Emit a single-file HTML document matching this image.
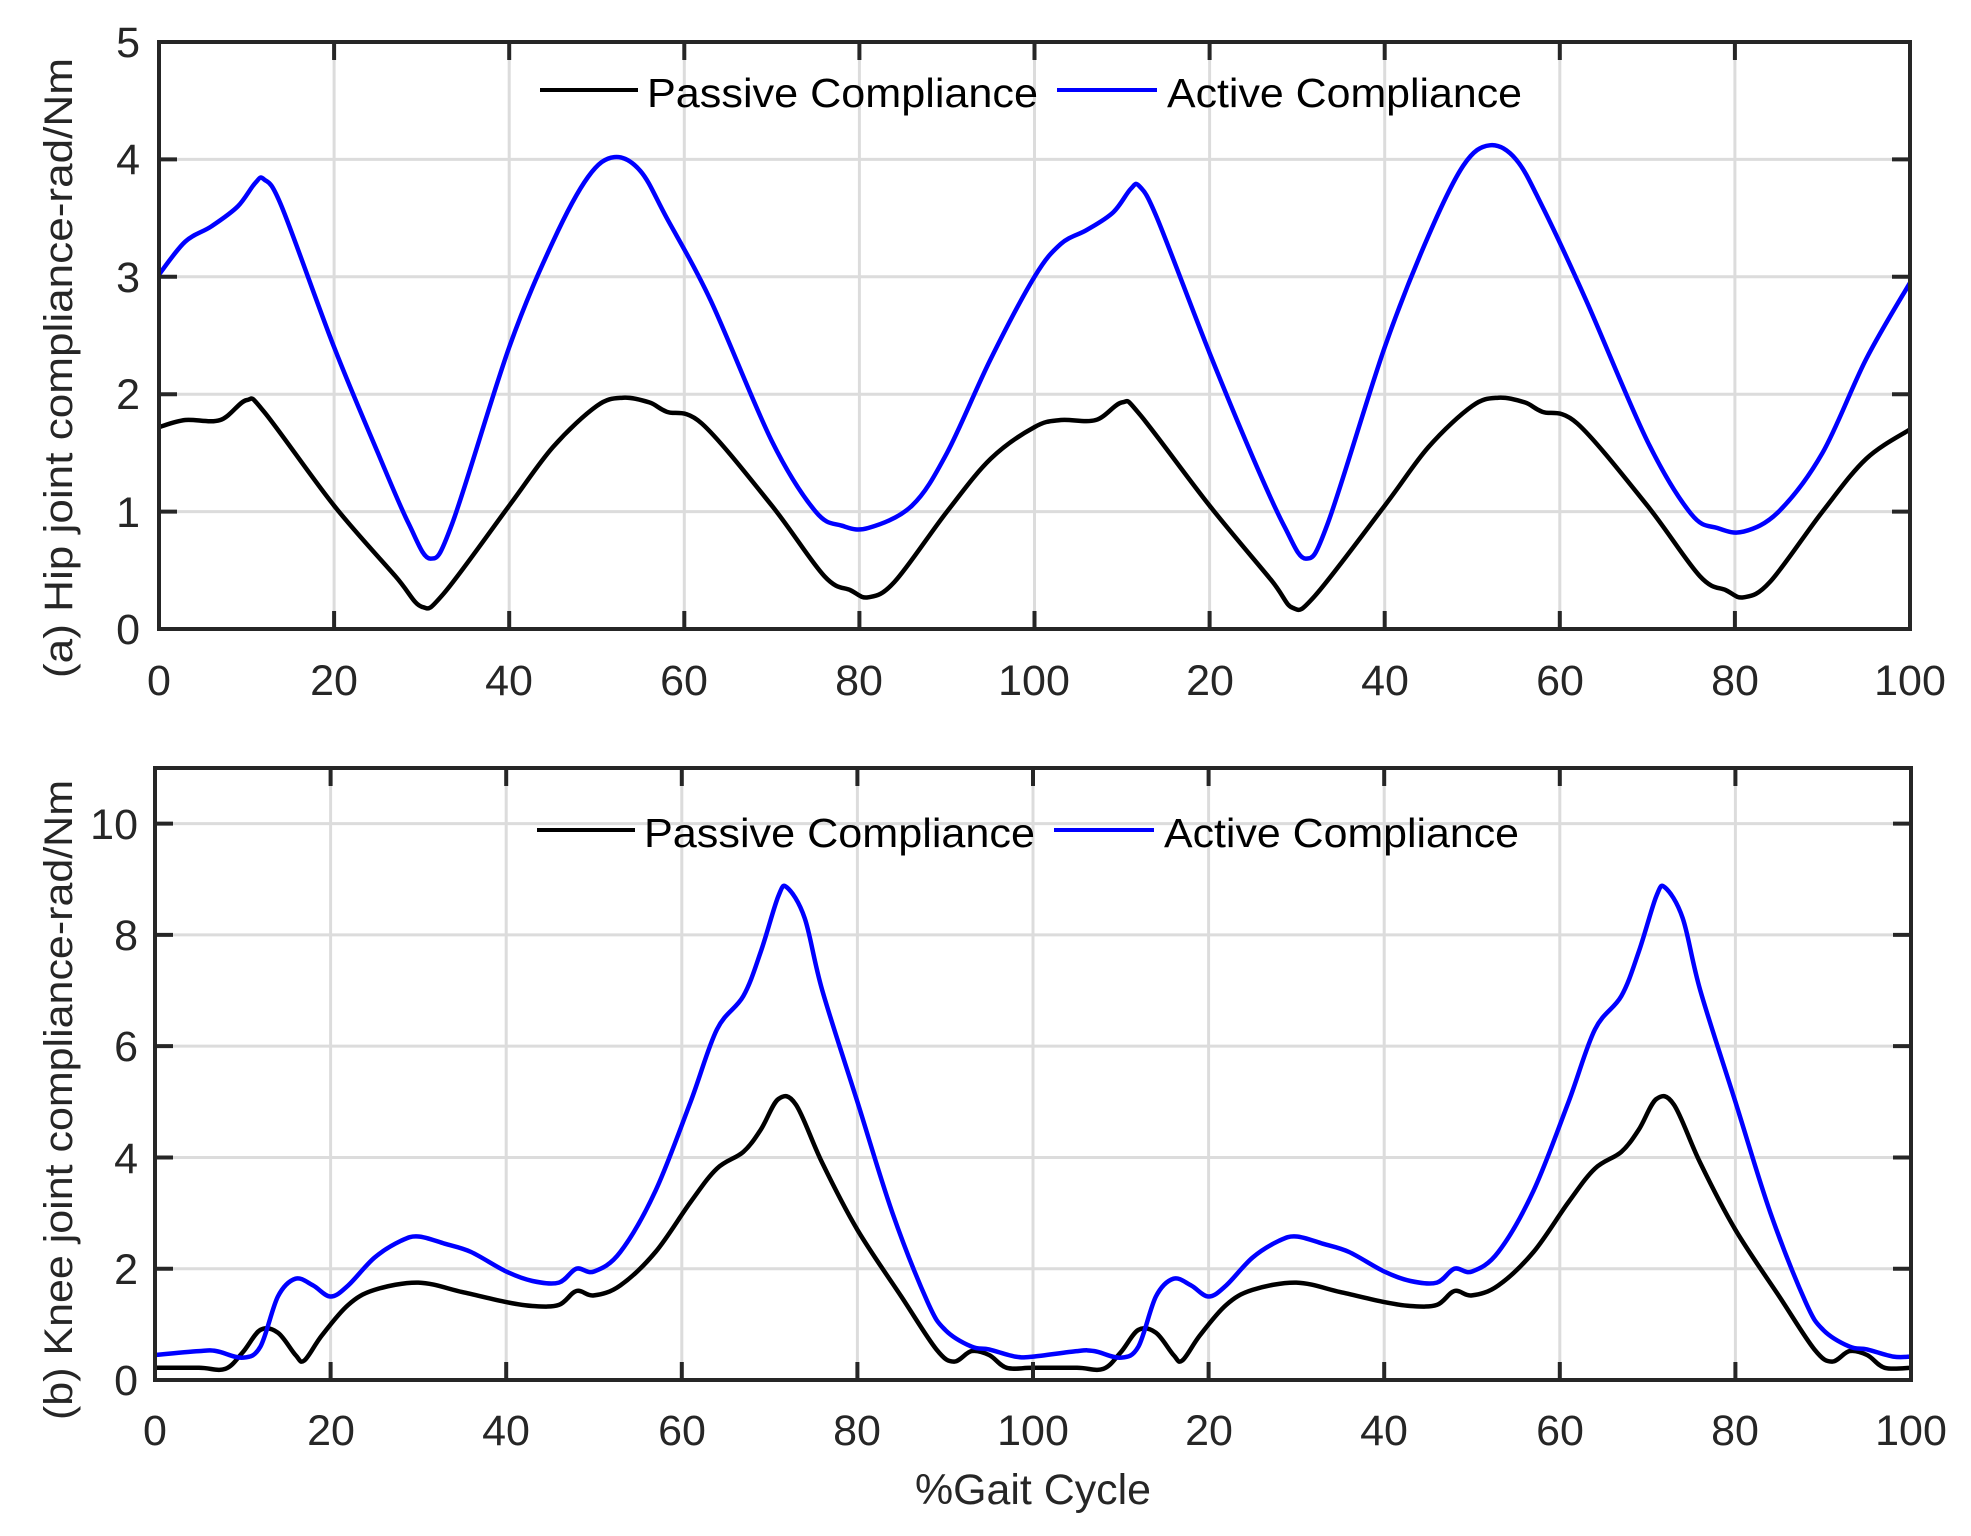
<!DOCTYPE html>
<html><head><meta charset="utf-8"><style>
html,body{margin:0;padding:0;background:#fff;}
svg{display:block;font-family:"Liberation Sans",sans-serif;}
</style></head><body>
<svg id="s" width="1971" height="1536" viewBox="0 0 1971 1536" xmlns="http://www.w3.org/2000/svg">
<g id="g1"></g>
<g id="g2"></g>
<g fill="#262626" font-size="43">
<text x="140" y="57" text-anchor="end">5</text>
<text x="140" y="174" text-anchor="end">4</text>
<text x="140" y="292" text-anchor="end">3</text>
<text x="140" y="409" text-anchor="end">2</text>
<text x="140" y="527" text-anchor="end">1</text>
<text x="140" y="644" text-anchor="end">0</text>
<g text-anchor="middle">
<text x="159" y="695">0</text><text x="334" y="695">20</text><text x="509" y="695">40</text><text x="684" y="695">60</text><text x="859" y="695">80</text><text x="1034" y="695">100</text><text x="1210" y="695">20</text><text x="1385" y="695">40</text><text x="1560" y="695">60</text><text x="1735" y="695">80</text><text x="1910" y="695">100</text>
<text x="155" y="1445">0</text><text x="331" y="1445">20</text><text x="506" y="1445">40</text><text x="682" y="1445">60</text><text x="857" y="1445">80</text><text x="1033" y="1445">100</text><text x="1209" y="1445">20</text><text x="1384" y="1445">40</text><text x="1560" y="1445">60</text><text x="1735" y="1445">80</text><text x="1911" y="1445">100</text>
</g>
<text x="138" y="1395" text-anchor="end">0</text>
<text x="138" y="1284" text-anchor="end">2</text>
<text x="138" y="1173" text-anchor="end">4</text>
<text x="138" y="1061" text-anchor="end">6</text>
<text x="138" y="950" text-anchor="end">8</text>
<text x="138" y="839" text-anchor="end">10</text>
<text font-size="40" transform="translate(72,368) rotate(-90)" text-anchor="middle" textLength="620" lengthAdjust="spacingAndGlyphs">(a) Hip joint compliance-rad/Nm</text>
<text font-size="40" transform="translate(72,1100) rotate(-90)" text-anchor="middle" textLength="640" lengthAdjust="spacingAndGlyphs">(b) Knee joint compliance-rad/Nm</text>
<text x="1033" y="1504" text-anchor="middle" textLength="236" lengthAdjust="spacingAndGlyphs">%Gait Cycle</text>
</g>
<g font-size="41" fill="#000">
<line x1="540" y1="90" x2="638" y2="90" stroke="#000" stroke-width="4"/>
<text x="647" y="107" textLength="391" lengthAdjust="spacingAndGlyphs">Passive Compliance</text>
<line x1="1057" y1="90" x2="1157" y2="90" stroke="#0000ff" stroke-width="4"/>
<text x="1167" y="107" textLength="355" lengthAdjust="spacingAndGlyphs">Active Compliance</text>
<line x1="537" y1="830" x2="635" y2="830" stroke="#000" stroke-width="4"/>
<text x="644" y="847" textLength="391" lengthAdjust="spacingAndGlyphs">Passive Compliance</text>
<line x1="1054" y1="830" x2="1154" y2="830" stroke="#0000ff" stroke-width="4"/>
<text x="1164" y="847" textLength="355" lengthAdjust="spacingAndGlyphs">Active Compliance</text>
</g>
</svg>
<script>
var NS="http://www.w3.org/2000/svg";
function el(g,t,a){var e=document.createElementNS(NS,t);for(var k in a)e.setAttribute(k,a[k]);g.appendChild(e);return e;}
function smooth(pts){var d="M"+pts[0][0].toFixed(1)+","+pts[0][1].toFixed(1);
for(var i=0;i<pts.length-1;i++){var p0=pts[i-1]||pts[i],p1=pts[i],p2=pts[i+1],p3=pts[i+2]||p2;
var c1=[p1[0]+(p2[0]-p0[0])/6,p1[1]+(p2[1]-p0[1])/6],c2=[p2[0]-(p3[0]-p1[0])/6,p2[1]-(p3[1]-p1[1])/6];
d+="C"+c1[0].toFixed(1)+","+c1[1].toFixed(1)+" "+c2[0].toFixed(1)+","+c2[1].toFixed(1)+" "+p2[0].toFixed(1)+","+p2[1].toFixed(1);}return d;}
function panel(g,x0,x1,yTop,y0,ymax,ystep,series){
 var sx=(x1-x0)/200,sy=(y0-yTop)/ymax;
 for(var v=0;v<=200;v+=20){var X=x0+v*sx;el(g,"line",{x1:X,y1:yTop,x2:X,y2:y0,stroke:"#dcdcdc","stroke-width":3});}
 for(var v=ystep;v<ymax;v+=ystep){var Y=y0-v*sy;el(g,"line",{x1:x0,y1:Y,x2:x1,y2:Y,stroke:"#dcdcdc","stroke-width":3});}
 series.forEach(function(s){var pts=s.d.map(function(p){return [x0+p[0]*sx,y0-p[1]*sy];});
  el(g,"path",{d:smooth(pts),fill:"none",stroke:s.c,"stroke-width":4.5,"stroke-linejoin":"round"});});
 for(var v=0;v<=200;v+=20){var X=x0+v*sx;el(g,"line",{x1:X,y1:y0,x2:X,y2:y0-18,stroke:"#262626","stroke-width":4});el(g,"line",{x1:X,y1:yTop,x2:X,y2:yTop+18,stroke:"#262626","stroke-width":4});}
 for(var v=0;v<=ymax;v+=ystep){var Y=y0-v*sy;el(g,"line",{x1:x0,y1:Y,x2:x0+18,y2:Y,stroke:"#262626","stroke-width":4});el(g,"line",{x1:x1,y1:Y,x2:x1-18,y2:Y,stroke:"#262626","stroke-width":4});}
 el(g,"rect",{x:x0,y:yTop,width:x1-x0,height:y0-yTop,fill:"none",stroke:"#262626","stroke-width":4});
}
function two(a,b){return a.concat(b.slice(1).map(function(p){return [p[0]+100,p[1]];}));}
var hp=[[0,1.72],[3,1.78],[7,1.78],[10,1.95],[12,1.85],[20,1.05],[27,0.45],[30,0.19],[32.5,0.3],[40,1.05],[45,1.55],[50,1.9],[53,1.97],[56,1.93],[58,1.85],[62,1.75],[70,1.05],[76,0.45],[79,0.33],[81,0.27],[84,0.4],[90,1.0],[95,1.45],[100,1.72]];
var hp2=[[0,1.72],[3,1.78],[7,1.78],[10,1.93],[12,1.83],[20,1.05],[27,0.42],[29.5,0.18],[32,0.28],[40,1.05],[45,1.55],[50,1.9],[53,1.97],[56,1.93],[58,1.85],[62,1.75],[70,1.05],[76,0.45],[79,0.33],[81,0.27],[84,0.4],[90,1.0],[95,1.45],[100,1.7]];
var ha=[[0,3.02],[3,3.3],[6,3.43],[9,3.6],[11,3.8],[12,3.83],[14,3.6],[20,2.4],[25,1.5],[28.5,0.9],[31,0.6],[33.5,0.9],[40,2.4],[45,3.3],[49,3.85],[52,4.02],[55,3.9],[58,3.5],[63,2.8],[70,1.6],[75,1.0],[78,0.88],[81,0.86],[86,1.05],[90,1.5],[95,2.3],[100,3.0]];
var ha2=[[0,3.0],[3,3.28],[6,3.4],[9,3.55],[11,3.75],[12,3.77],[14,3.5],[20,2.35],[25,1.45],[28.5,0.88],[31,0.6],[33.5,0.9],[40,2.4],[45,3.35],[49,3.95],[52,4.12],[55,4.0],[58,3.6],[63,2.8],[70,1.6],[75,0.98],[78,0.86],[81,0.83],[85,1.0],[90,1.5],[95,2.3],[100,2.95]];
var kp=[[0,0.22],[5,0.22],[8,0.2],[10,0.5],[12,0.9],[14,0.85],[16,0.45],[17,0.35],[19,0.8],[22,1.35],[25,1.62],[30,1.75],[35,1.58],[40,1.4],[43,1.33],[46,1.35],[48,1.6],[50,1.52],[53,1.7],[57,2.3],[61,3.2],[64,3.8],[67,4.1],[69,4.5],[71,5.05],[73,4.95],[76,3.9],[80,2.7],[85,1.5],[89,0.55],[91,0.33],[93,0.52],[95,0.45],[97,0.22],[100,0.22]];
var ka=[[0,0.45],[5,0.52],[7,0.52],[10,0.4],[12,0.6],[14,1.5],[16,1.82],[18,1.7],[20,1.5],[22,1.7],[25,2.2],[28,2.5],[30,2.58],[33,2.45],[36,2.3],[40,1.95],[43,1.78],[46,1.75],[48,2.0],[50,1.95],[53,2.3],[57,3.4],[61,5.0],[64,6.3],[67,6.9],[69,7.7],[71,8.7],[72,8.85],[74,8.3],[76,7.0],[80,5.0],[84,3.0],[88,1.4],[90,0.9],[93,0.6],[95,0.55],[98,0.42],[100,0.42]];
panel(document.getElementById("g1"),159,1910,42,629,5,1,[{c:"#000",d:two(hp,hp2)},{c:"#0000ff",d:two(ha,ha2)}]);
panel(document.getElementById("g2"),155,1911,768,1380,11,2,[{c:"#000",d:two(kp,kp)},{c:"#0000ff",d:two(ka,ka)}]);
</script>
</body></html>
